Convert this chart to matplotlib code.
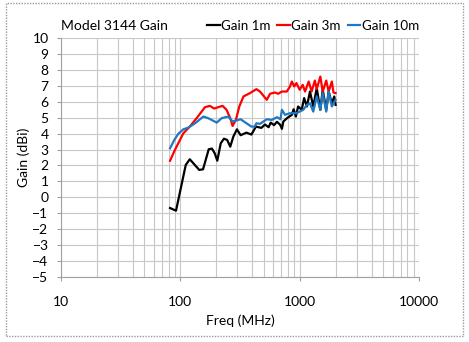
import matplotlib
matplotlib.use("Agg")
import matplotlib.pyplot as plt
from matplotlib.patches import Rectangle
from matplotlib.ticker import FixedLocator, LogLocator, NullFormatter

plt.rcParams['font.family'] = ['Lato', 'DejaVu Sans']
plt.rcParams['font.size'] = 10

# values
f_1m = [82, 92, 111, 120, 144, 155, 173, 184, 194, 204, 218, 232, 247, 262, 278, 298, 320,
        358, 394, 430, 478, 512, 549, 572, 610, 645, 687, 710, 730, 790, 860, 890, 930, 970,
        1040, 1090, 1150, 1220, 1300, 1390, 1490, 1560, 1670, 1750, 1860, 1950, 2000]
g_1m = [-0.67, -0.84, 2.03, 2.39, 1.72, 1.76, 3.02, 3.06, 2.77, 2.3, 3.39, 3.68, 3.6, 3.18,
        3.81, 4.27, 3.9, 4.06, 3.94, 4.44, 4.36, 4.57, 4.4, 4.69, 4.53, 4.74, 4.55, 4.3, 4.76,
        4.99, 5.18, 5.53, 5.07, 5.7, 5.49, 6.23, 5.7, 6.64, 5.7, 6.85, 5.49, 6.75, 5.49, 6.64,
        5.9, 6.33, 5.8]

f_3m = [82, 90, 106, 120, 137, 161, 177, 192, 208, 226, 244, 262, 274, 292, 312, 338, 383,
        434, 465, 530, 565, 620, 660, 710, 780, 830, 860, 900, 940, 1000, 1060, 1110, 1190,
        1260, 1340, 1390, 1490, 1560, 1670, 1750, 1860, 1920, 2000]
g_3m = [2.3, 2.97, 4.02, 4.44, 4.97, 5.66, 5.74, 5.57, 5.66, 5.74, 5.49, 4.97, 4.48, 4.86,
        5.7, 6.33, 6.54, 6.79, 6.64, 6.12, 6.5, 6.58, 6.5, 6.64, 6.64, 6.96, 7.27, 6.96, 7.17,
        6.75, 7.06, 6.64, 7.27, 6.64, 7.33, 6.8, 7.58, 6.64, 7.33, 6.64, 7.27, 6.58, 6.54]

f_10m = [82, 89, 96, 106, 117, 133, 156, 171, 202, 222, 252, 274, 292, 320, 358, 394, 420,
         434, 465, 530, 585, 645, 690, 710, 755, 830, 940, 1070, 1150, 1220, 1300, 1390, 1490,
         1560, 1670, 1750, 1860, 2000]
g_10m = [3.08, 3.6, 3.98, 4.27, 4.38, 4.65, 5.07, 4.97, 4.69, 4.97, 5.07, 4.76, 4.82, 4.9,
         4.65, 4.44, 4.44, 4.65, 4.61, 4.9, 4.86, 5.03, 4.9, 5.49, 5.18, 5.28, 5.28, 5.49, 5.8,
         5.9, 5.38, 6.33, 5.49, 6.54, 5.38, 6.64, 5.7, 6.12]

x_ticks = [10, 100, 1000, 10000]
y_ticks = list(range(-5, 11))

W, H = 469, 342
fig = plt.figure(figsize=(W / 100, H / 100), dpi=100)
ax = fig.add_axes([61 / W, 1 - 277 / H, 358 / W, 239 / H])

grid_c = '#c8c8c8'
ax.plot(f_1m, g_1m, color='black', lw=1.6, label='Gain 1m')
ax.plot(f_3m, g_3m, color='#ff0000', lw=1.6, label='Gain 3m')
ax.plot(f_10m, g_10m, color='#1f78c1', lw=1.6, label='Gain 10m')

ax.set_xscale('log')
ax.set_xlim(10, 10000)
ax.set_ylim(-5, 10)
ax.xaxis.set_major_locator(FixedLocator(x_ticks))
ax.set_xticklabels([str(t) for t in x_ticks])
ax.xaxis.set_minor_locator(LogLocator(base=10, subs=range(2, 10)))
ax.xaxis.set_minor_formatter(NullFormatter())
ax.set_yticks(y_ticks)
ax.grid(True, which='both', axis='x', color=grid_c, lw=0.8)
ax.grid(True, which='major', axis='y', color=grid_c, lw=0.8)
ax.set_axisbelow(True)
for s in ['top', 'right']:
    ax.spines[s].set_visible(False)
for s in ['left', 'bottom']:
    ax.spines[s].set_color('#a0a0a0')
    ax.spines[s].set_linewidth(0.8)
ax.tick_params(axis='both', which='major', color='#a0a0a0', length=3, labelsize=10)
ax.tick_params(axis='x', which='minor', length=0)
ax.tick_params(axis='x', pad=11)
ax.tick_params(axis='y', pad=6)

fig.text(240 / W, 1 - 321 / H, 'Freq (MHz)', ha='center', va='center', fontsize=10)
fig.text(24 / W, 1 - 157 / H, 'Gain (dBi)', ha='center', va='center', rotation=90, fontsize=10)
fig.text(61 / W, 1 - 26 / H, 'Model 3144 Gain', ha='left', va='center', fontsize=10)

fig.legend(loc='center', bbox_to_anchor=(313 / W, 1 - 26 / H), ncol=3, frameon=False,
           handlelength=0.95, handletextpad=0.1, columnspacing=0.5, fontsize=9.6,
           borderaxespad=0, borderpad=0)

fig.patches.append(Rectangle((6 / W, 1 - 336 / H), 457 / W, 333 / H, transform=fig.transFigure,
                             fill=False, edgecolor='#9a9a9a', lw=1.0, ls=(0, (1, 1))))

fig.savefig('out.png', dpi=100)
